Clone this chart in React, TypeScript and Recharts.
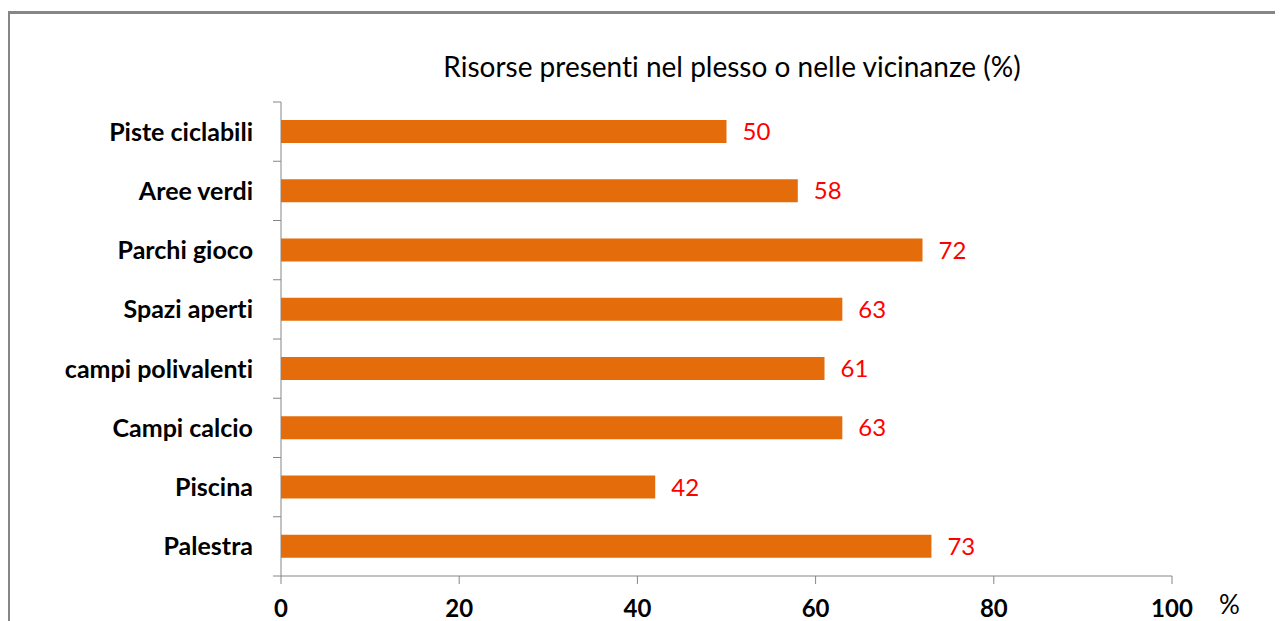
import React from 'react';
import { BarChart, Bar, XAxis, YAxis, LabelList, Label } from 'recharts';

const categories = [
  'Piste ciclabili',
  'Aree verdi',
  'Parchi gioco',
  'Spazi aperti',
  'campi polivalenti',
  'Campi calcio',
  'Piscina',
  'Palestra',
];
const values = [50, 58, 72, 63, 61, 63, 42, 73];
const xTicks = [0, 20, 40, 60, 80, 100];
const title = 'Risorse presenti nel plesso o nelle vicinanze (%)';
const unitLabel = '%';

const data = categories.map((name, i) => ({ name, value: values[i] }));

const FONT = "Lato, 'Open Sans', 'DejaVu Sans', sans-serif";
const AXIS = '#868686';
const TICK_SIZE = 8;
const TICK_MARGIN = 20;

const CategoryTick = (props: any) => {
  const { x, y, payload, index, visibleTicksCount } = props;
  const half = typeof payload?.offset === 'number' ? payload.offset : 0;
  const lx1 = x + TICK_MARGIN;
  const lx2 = lx1 + TICK_SIZE;
  const isLast = index === (visibleTicksCount ?? categories.length) - 1;
  return (
    <g>
      <line x1={lx1} x2={lx2} y1={y - half} y2={y - half} stroke={AXIS} strokeWidth={1} />
      {isLast && <line x1={lx1} x2={lx2} y1={y + half} y2={y + half} stroke={AXIS} strokeWidth={1} />}
      <text
        x={x}
        y={y}
        dy="0.355em"
        textAnchor="end"
        fill="#000"
        fontSize={25}
        fontWeight={700}
        fontFamily={FONT}
      >
        {payload.value}
      </text>
    </g>
  );
};

export default function App() {
  return (
    <div
      style={{
        position: 'relative',
        width: 1275,
        height: 613,
        overflow: 'hidden',
        fontFamily: FONT,
        fontVariantLigatures: 'none',
        background: '#fff',
      }}
    >
      <div
        style={{
          position: 'absolute',
          left: -1,
          top: 3,
          width: 1400,
          height: 800,
          border: `3px solid ${AXIS}`,
          boxSizing: 'border-box',
        }}
      />
      <div
        style={{
          position: 'absolute',
          left: 324,
          top: 41,
          width: 800,
          textAlign: 'center',
          fontSize: 28,
          lineHeight: '34px',
          color: '#000',
        }}
      >
        {title}
      </div>
      <div style={{ position: 'absolute', left: 0, top: 0 }}>
        <BarChart
          width={1275}
          height={613}
          data={data}
          layout="vertical"
          margin={{ top: 94, right: 111, bottom: 0, left: 0 }}
          style={{ fontFamily: FONT }}
        >
          <XAxis
            type="number"
            domain={[0, 100]}
            ticks={xTicks}
            interval={0}
            height={45}
            tickSize={8}
            tickMargin={16}
            stroke={AXIS}
            tick={{ fill: '#000', fontSize: 24, fontWeight: 700 }}
          >
            <Label value={unitLabel} position="right" offset={47} dy={6} style={{ fill: '#000', fontSize: 26, textAnchor: 'start' }} />
          </XAxis>
          <YAxis
            type="category"
            dataKey="name"
            width={273}
            axisLine={{ stroke: AXIS }}
            tickLine={false}
            tickSize={TICK_SIZE}
            tickMargin={TICK_MARGIN}
            interval={0}
            tick={<CategoryTick />}
          />
          <Bar dataKey="value" fill="#E46C0A" barSize={23} isAnimationActive={false}>
            <LabelList dataKey="value" position="right" offset={16} style={{ fill: '#FF0000', fontSize: 24 }} />
          </Bar>
        </BarChart>
      </div>
    </div>
  );
}
